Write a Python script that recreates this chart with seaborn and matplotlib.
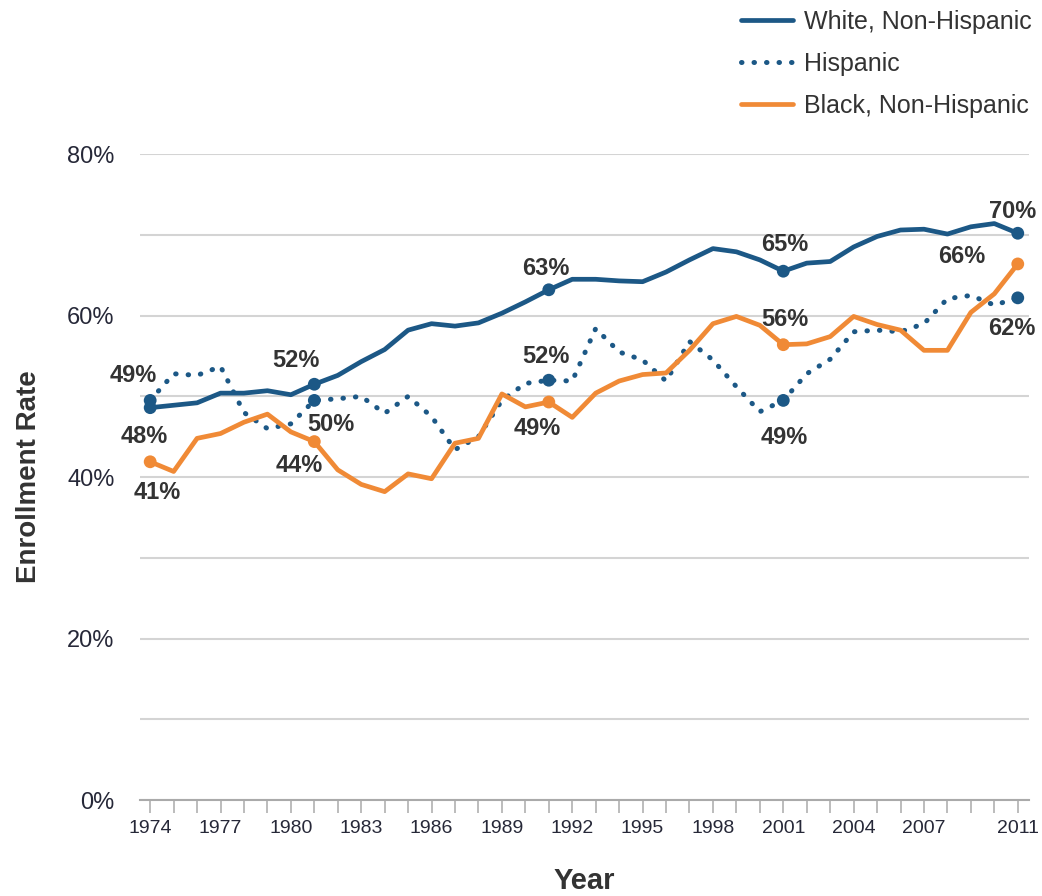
import numpy as np
import pandas as pd
import matplotlib
matplotlib.use("Agg")
import matplotlib.pyplot as plt
import seaborn as sns

years = list(range(1974, 2012))

white = [48.6, 48.9, 49.2, 50.4, 50.4, 50.7, 50.2, 51.5, 52.6, 54.3, 55.8, 58.2,
         59.0, 58.7, 59.1, 60.3, 61.7, 63.2, 64.5, 64.5, 64.3, 64.2, 65.4, 66.9,
         68.3, 67.9, 66.9, 65.5, 66.5, 66.7, 68.5, 69.8, 70.6, 70.7, 70.1, 71.0,
         71.4, 70.2]
hispanic = [49.5, 52.8, 52.6, 53.7, 48.0, 46.0, 46.6, 49.5, 49.7, 50.0, 47.9, 50.0,
            47.5, 43.4, 45.0, 49.5, 51.6, 52.0, 51.9, 58.4, 55.5, 54.5, 51.9, 56.8,
            54.5, 51.2, 48.1, 49.5, 52.8, 54.6, 58.0, 58.2, 58.0, 59.0, 62.1, 62.5,
            61.3, 62.2]
black = [41.9, 40.7, 44.8, 45.4, 46.8, 47.8, 45.6, 44.4, 40.9, 39.1, 38.2, 40.4,
         39.8, 44.2, 44.8, 50.3, 48.7, 49.3, 47.4, 50.4, 51.9, 52.7, 52.9, 55.7,
         59.0, 59.9, 58.8, 56.4, 56.5, 57.4, 59.9, 58.9, 58.2, 55.7, 55.7, 60.4,
         62.7, 66.4]

series_names = ["White, Non-Hispanic", "Hispanic", "Black, Non-Hispanic"]
marked_years = [1974, 1981, 1991, 2001, 2011]
label_text = {
    "White, Non-Hispanic": ["48%", "52%", "63%", "65%", "70%"],
    "Hispanic": ["49%", "50%", "52%", "49%", "62%"],
    "Black, Non-Hispanic": ["41%", "44%", "49%", "56%", "66%"],
}
year_labels = [1974, 1977, 1980, 1983, 1986, 1989, 1992, 1995, 1998, 2001, 2004, 2007, 2011]

# label offsets in points (dx, dy) for each marked point
offsets = {
    "White, Non-Hispanic": [(-4, -21), (-13, 17), (-2, 15), (1, 19), (-4, 16)],
    "Hispanic": [(-12, 18), (12, -17), (-2, 17), (1, -27), (-4, -22)],
    "Black, Non-Hispanic": [(5, -22), (-11, -17), (-8, -19), (1, 18), (-40, 5)],
}

BLUE = "#1c5886"
ORANGE = "#f08a36"
TEXT = "#333333"
FONT = ["Liberation Sans", "DejaVu Sans"]

df = pd.DataFrame({"year": years, series_names[0]: white,
                   series_names[1]: hispanic, series_names[2]: black})
long = df.melt(id_vars="year", var_name="group", value_name="rate")

sns.set_style("white")
plt.rcParams["font.family"] = FONT

fig = plt.figure(figsize=(10.42, 8.96), dpi=100)
ax = fig.add_axes([0.134, 0.107, 0.854, 0.721])

colors = {series_names[0]: BLUE, series_names[1]: BLUE, series_names[2]: ORANGE}

for name in series_names:
    sub = long[long["group"] == name]
    if name == "Hispanic":
        sns.lineplot(data=sub, x="year", y="rate", ax=ax, color=BLUE,
                     linewidth=3.6, linestyle=(0, (0.1, 2.4)),
                     dash_capstyle="round", label=name, zorder=3)
    else:
        sns.lineplot(data=sub, x="year", y="rate", ax=ax, color=colors[name],
                     linewidth=3.4, label=name, zorder=3,
                     solid_joinstyle="round")
    pts = sub[sub["year"].isin(marked_years)]
    sns.scatterplot(data=pts, x="year", y="rate", ax=ax, color=colors[name],
                    s=85, edgecolor="none", zorder=4, legend=False)
    for (_, row), txt, off in zip(pts.iterrows(), label_text[name], offsets[name]):
        ax.annotate(txt, (row["year"], row["rate"]), xytext=off,
                    textcoords="offset points", ha="center", va="center",
                    fontsize=17, fontweight="bold", color=TEXT, zorder=5)

ax.set_xlim(1973.55, 2011.5)
ax.set_ylim(0, 80)
ax.set_yticks(np.arange(0, 81, 10))
ax.set_yticklabels([f"{v}%" if v % 20 == 0 else "" for v in range(0, 81, 10)])
ax.set_xticks(years)
ax.set_xticklabels([str(y) if y in year_labels else "" for y in years])
ax.grid(axis="y", color="#d4d4d4", linewidth=1.5)
ax.grid(axis="x", visible=False)
for side in ["top", "right", "left"]:
    ax.spines[side].set_visible(False)
ax.spines["bottom"].set_color("#aaaaaa")
ax.spines["bottom"].set_linewidth(1.5)
ax.tick_params(axis="x", length=9, width=1.2, color="#b0b0b0", labelsize=14,
               labelcolor="#262838", pad=5, bottom=True, direction="out")
ax.tick_params(axis="y", length=0, labelsize=17, labelcolor="#262838", pad=18)

ax.set_xlabel("Year", fontsize=21, fontweight="bold", color=TEXT, labelpad=22)
ax.set_ylabel("Enrollment Rate", fontsize=20, fontweight="bold", color=TEXT, labelpad=18)

handles, labels = ax.get_legend_handles_labels()
ax.legend(handles, labels, loc="upper right", bbox_to_anchor=(1.012, 1.014),
          bbox_transform=fig.transFigure, frameon=False, fontsize=18,
          handlelength=2.1, handletextpad=0.45, labelspacing=0.72,
          labelcolor=TEXT)

fig.savefig("out.png", dpi=100)
